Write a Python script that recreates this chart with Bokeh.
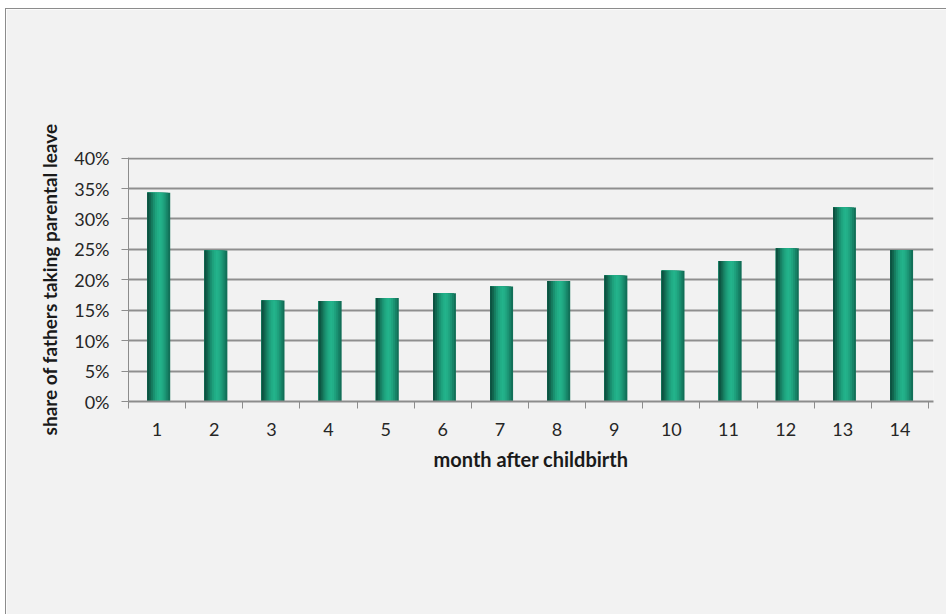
from bokeh.plotting import figure
from bokeh.models import FixedTicker, NumeralTickFormatter, Range1d
from bokeh.embed import file_html
from bokeh.resources import INLINE

# ---- data ----
months = list(range(1, 15))
month_labels = [str(m) for m in months]
shares = [0.343, 0.248, 0.166, 0.165, 0.170, 0.178, 0.189, 0.198,
          0.207, 0.215, 0.231, 0.252, 0.319, 0.249]
y_ticks = [0.0, 0.05, 0.10, 0.15, 0.20, 0.25, 0.30, 0.35, 0.40]
x_title = "month after childbirth"
y_title = "share of fathers taking parental leave"

FONT = "Lato"

p = figure(width=941, height=606, margin=(8, 0, 0, 5),
           output_backend="svg", toolbar_location=None,
           x_range=Range1d(0.5, 14.5 + 5 / 57.14), y_range=Range1d(0, 0.401),
           min_border_left=122, min_border_right=14,
           min_border_top=148, min_border_bottom=214)
p.styles = {"border-top": "1px solid #8c8c8c", "border-left": "1px solid #8c8c8c"}
p.background_fill_color = "#f2f2f2"
p.border_fill_color = "#f2f2f2"
p.outline_line_color = None

# cylinder-like shading: overlapping bars, each from the bar's left edge
grad = ["#0d5241", "#11664f", "#167d60", "#1a9171", "#1ea27d", "#21ad86",
        "#23b38b", "#22ae87", "#1fa27e", "#1b9373", "#168266", "#127058"]
n = len(grad)
bar_w = 0.40
shift = 0.03
sw = bar_w / n
for i in range(n - 1, -1, -1):
    w = (i + 1) * sw
    off = shift - bar_w / 2 + w / 2
    p.vbar(x=[m + off for m in months], top=shares, bottom=0,
           width=w, fill_color=grad[i], line_color=None)

# axes
xa = p.xaxis[0]
xa.ticker = FixedTicker(ticks=months, minor_ticks=[m + 0.5 for m in [0] + months])
xa.major_label_overrides = {m: l for m, l in zip(months, month_labels)}
xa.major_tick_line_color = None
xa.major_tick_out = 0
xa.major_tick_in = 0
xa.minor_tick_line_color = "#8c8c8c"
xa.minor_tick_line_width = 1
xa.minor_tick_out = 7
xa.minor_tick_in = 0
xa.axis_line_color = "#8c8c8c"
xa.axis_line_width = 2
xa.major_label_text_font = FONT
xa.major_label_text_font_size = "18px"
xa.major_label_text_color = "#262626"
xa.major_label_standoff = 14
xa.axis_label = x_title
xa.axis_label_text_font = FONT
xa.axis_label_text_font_style = "bold"
xa.axis_label_text_font_size = "20px"
xa.axis_label_text_color = "#1a1a1a"
xa.axis_label_standoff = 8

ya = p.yaxis[0]
ya.ticker = FixedTicker(ticks=y_ticks, minor_ticks=[])
ya.formatter = NumeralTickFormatter(format="0%")
ya.major_tick_line_color = "#8c8c8c"
ya.major_tick_out = 7
ya.major_tick_in = 0
ya.axis_line_color = "#8c8c8c"
ya.axis_line_width = 1
ya.major_label_text_font = FONT
ya.major_label_text_font_size = "18px"
ya.major_label_text_color = "#262626"
ya.major_label_standoff = 12
ya.axis_label = y_title
ya.axis_label_text_font = FONT
ya.axis_label_text_font_style = "bold"
ya.axis_label_text_font_size = "19px"
ya.axis_label_text_color = "#1a1a1a"
ya.axis_label_standoff = 10

p.xgrid.grid_line_color = None
p.ygrid.ticker = FixedTicker(ticks=y_ticks)
p.ygrid.grid_line_color = "#8f8f8f"
p.ygrid.grid_line_width = 2

open("out.html", "w").write(file_html(p, INLINE))
